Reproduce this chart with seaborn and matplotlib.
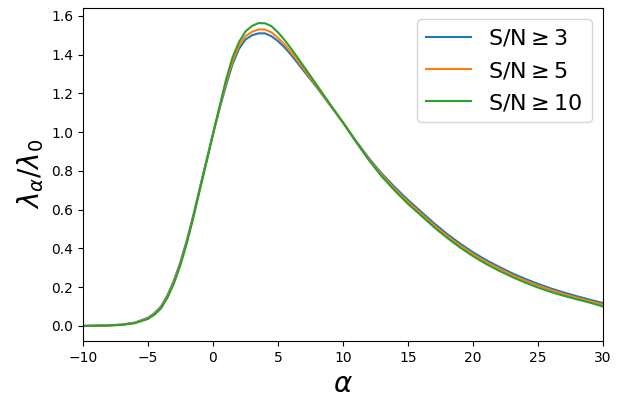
import numpy as np
import pandas as pd
import seaborn as sns
import matplotlib
matplotlib.use('Agg')
import matplotlib.pyplot as plt

# values
alpha = [-10, -9, -8, -7, -6, -5, -4.5, -4, -3.5, -3, -2.5, -2, -1.5, -1, -0.5,
         0, 0.5, 1, 1.5, 2, 2.5, 3, 3.5, 4, 4.5, 5, 5.5, 6, 6.5, 7,
         8, 9, 10, 11, 12, 13, 14, 15, 16, 17, 18, 19, 20,
         21, 22, 23, 24, 25, 26, 27, 28, 29, 30]

sn3 = [0.000, 0.001, 0.003, 0.007, 0.017, 0.042, 0.066, 0.100, 0.158, 0.235, 0.330, 0.445, 0.575, 0.715, 0.855,
       0.990, 1.120, 1.240, 1.350, 1.430, 1.478, 1.500, 1.510, 1.510, 1.495, 1.470, 1.438, 1.400, 1.358, 1.315,
       1.230, 1.140, 1.050, 0.955, 0.865, 0.785, 0.715, 0.650, 0.590, 0.530, 0.475, 0.425, 0.380,
       0.340, 0.305, 0.272, 0.243, 0.217, 0.193, 0.172, 0.153, 0.135, 0.118]

sn5 = [0.000, 0.001, 0.002, 0.006, 0.016, 0.039, 0.062, 0.095, 0.152, 0.228, 0.322, 0.437, 0.568, 0.710, 0.850,
       0.990, 1.125, 1.255, 1.365, 1.445, 1.495, 1.518, 1.530, 1.530, 1.515, 1.487, 1.453, 1.413, 1.370, 1.325,
       1.235, 1.142, 1.050, 0.952, 0.860, 0.778, 0.706, 0.640, 0.580, 0.520, 0.465, 0.415, 0.371,
       0.331, 0.296, 0.263, 0.234, 0.208, 0.185, 0.164, 0.145, 0.128, 0.110]

sn10 = [0.000, 0.001, 0.002, 0.005, 0.014, 0.036, 0.058, 0.090, 0.146, 0.220, 0.315, 0.430, 0.562, 0.705, 0.845,
        0.990, 1.130, 1.270, 1.385, 1.465, 1.520, 1.548, 1.563, 1.562, 1.547, 1.515, 1.476, 1.432, 1.386, 1.338,
        1.242, 1.145, 1.050, 0.950, 0.855, 0.770, 0.697, 0.630, 0.570, 0.510, 0.455, 0.405, 0.360,
        0.320, 0.285, 0.253, 0.224, 0.198, 0.175, 0.155, 0.137, 0.120, 0.100]

labels = ['S/N$\\geq$3', 'S/N$\\geq$5', 'S/N$\\geq$10']
colors = ['#1f77b4', '#ff7f0e', '#2ca02c']

data = pd.concat([
    pd.DataFrame({'alpha': alpha, 'ratio': sn3, 'cut': labels[0]}),
    pd.DataFrame({'alpha': alpha, 'ratio': sn5, 'cut': labels[1]}),
    pd.DataFrame({'alpha': alpha, 'ratio': sn10, 'cut': labels[2]}),
])

fig, ax = plt.subplots(figsize=(6.36, 3.97), dpi=100)
fig.subplots_adjust(left=0.1305, right=0.948, top=0.98, bottom=0.141)

sns.lineplot(data=data, x='alpha', y='ratio', hue='cut', hue_order=labels,
             palette=colors, linewidth=1.5, ax=ax)

ax.set_xlim(-10, 30)
ax.set_xticks(np.arange(-10, 31, 5))
ax.set_yticks(np.arange(0, 1.61, 0.2))
ax.set_xlabel(r'$\alpha$', fontsize=20)
ax.set_ylabel(r'$\lambda_\alpha/\lambda_0$', fontsize=20)
ax.legend(title=None, fontsize=16, loc='upper right')

fig.savefig('out.png', dpi=100)
